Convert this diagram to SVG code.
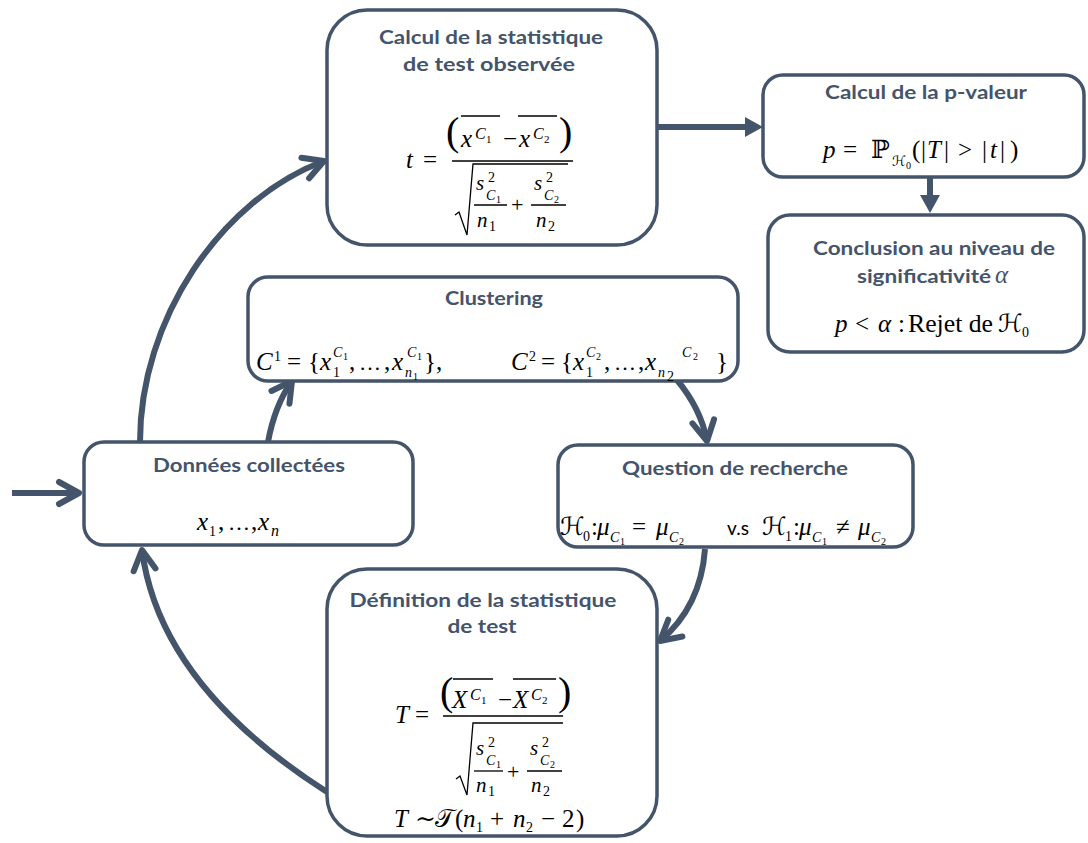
<svg xmlns="http://www.w3.org/2000/svg" width="1088" height="843" viewBox="0 0 1088 843">
<defs>
<style>
.box{fill:#fff;stroke:#44546A;stroke-width:3.5}
.h{font-family:Lato,"Open Sans","Liberation Sans",sans-serif;font-weight:700;font-size:19px;fill:#44546A;text-anchor:middle}
.m{font-family:"Liberation Serif","DejaVu Serif","DejaVu Sans","Noto Sans",serif;fill:#000}
.i{font-style:italic}
.f24{font-size:25px}.f22{font-size:22px}.f20{font-size:21px}.f16{font-size:16px}.f14{font-size:14px}.f11{font-size:11px}.f10{font-size:10px}.f40{font-size:40px}
.ln{stroke:#000;stroke-width:1.3;fill:none}
.con{fill:none;stroke:#44546A;stroke-width:6}
.tri{fill:#44546A}
</style>
<marker id="chev" markerUnits="userSpaceOnUse" orient="auto" refX="0" refY="0" markerWidth="40" markerHeight="40" viewBox="-30 -15 40 30" overflow="visible">
<path d="M-20,-11 L0,0 L-20,11" fill="none" stroke="#44546A" stroke-width="6" stroke-linecap="round" stroke-linejoin="round"/>
</marker>
</defs>
<rect width="1088" height="843" fill="#fff"/>

<g id="connectors">
<path class="con" d="M12,493 L79,493" marker-end="url(#chev)"/>
<path class="con" d="M140,442 C140,320 220,200 324,161" marker-end="url(#chev)"/>
<path class="con" d="M268,442 C272,420 280,398 292,381" marker-end="url(#chev)"/>
<path class="con" d="M677,380 C692,398 703,420 707,441" marker-end="url(#chev)"/>
<path class="con" d="M705,549 C702,590 685,620 660,641" marker-end="url(#chev)"/>
<path class="con" d="M327,792 C230,730 155,650 142,550" marker-end="url(#chev)"/>
<line class="con" x1="657" y1="127" x2="747" y2="127"/>
<polygon class="tri" points="745,117 763,127 745,137"/>
<line class="con" x1="930" y1="177" x2="930" y2="197"/>
<polygon class="tri" points="920,195 930,213 940,195"/>
</g>

<g id="node-calcul-t">
<rect class="box" x="327" y="10" width="330" height="235" rx="40"/>
<text class="h" x="491" y="44" textLength="224" lengthAdjust="spacingAndGlyphs">Calcul de la statistique</text>
<text class="h" x="489" y="71" textLength="172" lengthAdjust="spacingAndGlyphs">de test observée</text>
<text class="m i f24" x="406" y="168">t</text>
<text class="m f24" x="423" y="168">=</text>
<text class="m f40" x="446" y="145">(</text>
<text class="m i f24" x="461" y="147">x</text>
<text class="m i f16" x="475" y="139">C</text>
<text class="m f11" x="486" y="143">1</text>
<line class="ln" x1="461" y1="116" x2="500" y2="116"/>
<text class="m f24" x="503" y="147">−</text>
<text class="m i f24" x="519" y="147">x</text>
<text class="m i f16" x="533" y="139">C</text>
<text class="m f11" x="544" y="143">2</text>
<line class="ln" x1="518" y1="116" x2="557" y2="116"/>
<text class="m f40" x="559" y="145">)</text>
<line class="ln" x1="452" y1="161" x2="573" y2="161"/>
<path class="ln" d="M455,215 L459,212 L467,235 L473,164 L568,164"/>
<text class="m i f20" x="476" y="190">s</text>
<text class="m f14" x="488" y="182">2</text>
<text class="m i f14" x="486" y="200">C</text>
<text class="m f10" x="496" y="203">1</text>
<line class="ln" x1="474" y1="205" x2="507" y2="205"/>
<text class="m i f20" x="477" y="227">n</text>
<text class="m f14" x="489" y="231">1</text>
<text class="m f22" x="511" y="212">+</text>
<text class="m i f20" x="534" y="190">s</text>
<text class="m f14" x="546" y="182">2</text>
<text class="m i f14" x="544" y="200">C</text>
<text class="m f10" x="554" y="203">2</text>
<line class="ln" x1="531" y1="205" x2="566" y2="205"/>
<text class="m i f20" x="536" y="227">n</text>
<text class="m f14" x="548" y="231">2</text>
</g>

<g id="node-pvaleur">
<rect class="box" x="763" y="75" width="321" height="102" rx="20"/>
<text class="h" x="926" y="99" textLength="202" lengthAdjust="spacingAndGlyphs">Calcul de la p-valeur</text>
<text class="m i f24" x="823" y="158">p</text>
<text class="m f24" x="843" y="158">=</text>
<text class="m f24" x="871" y="158">ℙ</text>
<text class="m i f14" x="892" y="166">ℋ</text>
<text class="m f10" x="906" y="169">0</text>
<text class="m f24" x="912" y="158">(</text>
<text class="m f24" x="921" y="158">|</text>
<text class="m i f24" x="927" y="158">T</text>
<text class="m f24" x="944" y="158">|</text>
<text class="m f24" x="958" y="158">&gt;</text>
<text class="m f24" x="982" y="158">|</text>
<text class="m i f24" x="990" y="158">t</text>
<text class="m f24" x="1000" y="158">|</text>
<text class="m f24" x="1010" y="158">)</text>
</g>

<g id="node-conclusion">
<rect class="box" x="768" y="215" width="316" height="137" rx="22"/>
<text class="h" x="934" y="255" textLength="242" lengthAdjust="spacingAndGlyphs">Conclusion au niveau de</text>
<text class="h" x="857" y="283" style="text-anchor:start" textLength="134" lengthAdjust="spacingAndGlyphs">significativité</text>
<text class="m i f24" x="995" y="283" style="fill:#44546A">α</text>
<text class="m i f24" x="835" y="332">p</text>
<text class="m f24" x="855" y="332">&lt;</text>
<text class="m i f24" x="878" y="332">α</text>
<text class="m f24" x="898" y="332">:</text>
<text class="m f24" x="908" y="332" textLength="85" lengthAdjust="spacingAndGlyphs">Rejet de</text>
<text class="m i f24" x="998" y="332">ℋ</text>
<text class="m f14" x="1022" y="337">0</text>
</g>

<g id="node-clustering">
<rect class="box" x="248" y="277" width="490" height="104" rx="20"/>
<text class="h" x="494" y="305" textLength="98" lengthAdjust="spacingAndGlyphs">Clustering</text>
<text class="m i f24" x="256" y="370">C</text>
<text class="m f14" x="274" y="361">1</text>
<text class="m f24" x="287" y="370">=</text>
<text class="m f24" x="308" y="370">{</text>
<text class="m i f24" x="320" y="370">x</text>
<text class="m i f14" x="333" y="357">C</text>
<text class="m f10" x="343" y="360">1</text>
<text class="m f14" x="333" y="377">1</text>
<text class="m f24" x="349" y="370">,</text>
<text class="m f22" x="359" y="370">…</text>
<text class="m f24" x="384" y="370">,</text>
<text class="m i f24" x="392" y="370">x</text>
<text class="m i f14" x="407" y="357">C</text>
<text class="m f10" x="417" y="360">1</text>
<text class="m i f14" x="405" y="377">n</text>
<text class="m f10" x="413" y="380">1</text>
<text class="m f24" x="424" y="370">},</text>
<text class="m i f24" x="511" y="370">C</text>
<text class="m f14" x="529" y="361">2</text>
<text class="m f24" x="541" y="370">=</text>
<text class="m f24" x="561" y="370">{</text>
<text class="m i f24" x="573" y="370">x</text>
<text class="m i f14" x="586" y="357">C</text>
<text class="m f10" x="596" y="360">2</text>
<text class="m f14" x="586" y="377">1</text>
<text class="m f24" x="604" y="370">,</text>
<text class="m f22" x="614" y="370">…</text>
<text class="m f24" x="638" y="370">,</text>
<text class="m i f24" x="645" y="370">x</text>
<text class="m i f14" x="658" y="377">n</text>
<text class="m f14" x="667" y="381">2</text>
<text class="m i f14" x="682" y="357">C</text>
<text class="m f10" x="693" y="360">2</text>
<text class="m f24" x="716" y="370">}</text>
</g>

<g id="node-donnees">
<rect class="box" x="84" y="442" width="329" height="103" rx="20"/>
<text class="h" x="249" y="472" textLength="192" lengthAdjust="spacingAndGlyphs">Données collectées</text>
<text class="m i f24" x="197" y="530">x</text>
<text class="m f14" x="209" y="536">1</text>
<text class="m f24" x="218" y="530">,</text>
<text class="m f22" x="228" y="530">…</text>
<text class="m f24" x="251" y="530">,</text>
<text class="m i f24" x="258" y="530">x</text>
<text class="m i f16" x="271" y="536">n</text>
</g>

<g id="node-question">
<rect class="box" x="558" y="445" width="355" height="102" rx="20"/>
<text class="h" x="735" y="475" textLength="226" lengthAdjust="spacingAndGlyphs">Question de recherche</text>
<text class="m i f24" x="560" y="535">ℋ</text>
<text class="m f14" x="583" y="541">0</text>
<text class="m f24" x="591" y="535">:</text>
<text class="m i f24" x="597" y="535">μ</text>
<text class="m i f14" x="610" y="542">C</text>
<text class="m f10" x="620" y="545">1</text>
<text class="m f24" x="632" y="535">=</text>
<text class="m i f24" x="656" y="535">μ</text>
<text class="m i f14" x="669" y="542">C</text>
<text class="m f10" x="679" y="545">2</text>
<text x="727" y="535" style="font-family:Lato,'Liberation Sans',sans-serif;font-size:19px;fill:#000">v.s</text>
<text class="m i f24" x="762" y="535">ℋ</text>
<text class="m f14" x="785" y="541">1</text>
<text class="m f24" x="793" y="535">:</text>
<text class="m i f24" x="799" y="535">μ</text>
<text class="m i f14" x="812" y="542">C</text>
<text class="m f10" x="822" y="545">1</text>
<text class="m f24" x="836" y="535">≠</text>
<text class="m i f24" x="858" y="535">μ</text>
<text class="m i f14" x="871" y="542">C</text>
<text class="m f10" x="881" y="545">2</text>
</g>

<g id="node-definition">
<rect class="box" x="327" y="569" width="330" height="267" rx="40"/>
<text class="h" x="483" y="607" textLength="267" lengthAdjust="spacingAndGlyphs">Définition de la statistique</text>
<text class="h" x="482" y="633" textLength="69" lengthAdjust="spacingAndGlyphs">de test</text>
<text class="m i f24" x="395" y="723">T</text>
<text class="m f24" x="415" y="723">=</text>
<text class="m f40" x="440" y="705">(</text>
<text class="m i f24" x="452" y="708">X</text>
<text class="m i f16" x="470" y="700">C</text>
<text class="m f11" x="481" y="704">1</text>
<line class="ln" x1="453" y1="679" x2="493" y2="679"/>
<text class="m f24" x="498" y="708">−</text>
<text class="m i f24" x="513" y="708">X</text>
<text class="m i f16" x="531" y="700">C</text>
<text class="m f11" x="542" y="704">2</text>
<line class="ln" x1="513" y1="679" x2="556" y2="679"/>
<text class="m f40" x="558" y="705">)</text>
<line class="ln" x1="443" y1="716" x2="563" y2="716"/>
<path class="ln" d="M456,779 L460,776 L467,795 L473,723 L563,723"/>
<text class="m i f20" x="476" y="755">s</text>
<text class="m f14" x="488" y="747">2</text>
<text class="m i f14" x="486" y="765">C</text>
<text class="m f10" x="496" y="768">1</text>
<line class="ln" x1="474" y1="771" x2="503" y2="771"/>
<text class="m i f20" x="476" y="792">n</text>
<text class="m f14" x="488" y="796">1</text>
<text class="m f22" x="507" y="779">+</text>
<text class="m i f20" x="530" y="755">s</text>
<text class="m f14" x="542" y="747">2</text>
<text class="m i f14" x="540" y="765">C</text>
<text class="m f10" x="550" y="768">2</text>
<line class="ln" x1="527" y1="771" x2="562" y2="771"/>
<text class="m i f20" x="531" y="792">n</text>
<text class="m f14" x="543" y="796">2</text>
<text class="m i f24" x="394" y="827">T</text>
<text class="m f24" x="415" y="827">∼</text>
<text class="m f24" x="435" y="827">𝒯</text>
<text class="m f24" x="455" y="827">(</text>
<text class="m i f24" x="463" y="827">n</text>
<text class="m f14" x="476" y="832">1</text>
<text class="m f24" x="490" y="827">+</text>
<text class="m i f24" x="513" y="827">n</text>
<text class="m f14" x="526" y="832">2</text>
<text class="m f24" x="541" y="827">−</text>
<text class="m f24" x="562" y="827">2</text>
<text class="m f24" x="576" y="827">)</text>
</g>
</svg>
